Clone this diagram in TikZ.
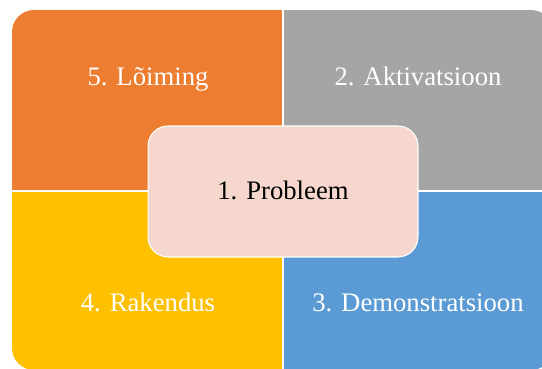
\documentclass[tikz,border=0pt]{standalone}
\usepackage{fontspec}
\setmainfont{Liberation Serif}
\definecolor{qorange}{HTML}{ED7D31}
\definecolor{qgray}{HTML}{A5A5A5}
\definecolor{qyellow}{HTML}{FFC000}
\definecolor{qblue}{HTML}{5B9BD5}
\definecolor{qpink}{HTML}{F5D7CD}
\begin{document}
\begin{tikzpicture}[x=0.02cm,y=0.02cm,font=\fontsize{15.2}{18}\selectfont,
		lbl/.style={text=white,inner sep=0pt,anchor=base},
		midbox/.style={draw=white,line width=0.6pt,fill=qpink,rounded corners=0.4cm,
			minimum width=5.4cm,minimum height=2.62cm}]
	\useasboundingbox (0,0) rectangle (542,369);
	\clip (0,0) rectangle (542,369);
	% four quadrants inside one rounded frame
	\begin{scope}
		\clip[rounded corners=0.44cm] (12,-1) rectangle (553,359);
		\fill[qorange] (12,178) rectangle (283,359);
		\fill[qgray] (283,178) rectangle (553,359);
		\fill[qyellow] (12,-1) rectangle (283,178);
		\fill[qblue] (283,-1) rectangle (553,178);
		\draw[white,line width=0.6pt] (283,-1)--(283,359) (12,178)--(553,178);
	\end{scope}
	\node[lbl] (loiming) at (148,283.5) {5. Lõiming};
	\node[lbl] (aktiv) at (418,283) {2. Aktivatsioon};
	\node[lbl] (rakend) at (148,57) {4. Rakendus};
	\node[lbl] (demo) at (418,57) {3. Demonstratsioon};
	\node[midbox] (probl) at (283,177.5) {};
	\node[lbl,text=black] (probltxt) at (283,169) {1. Probleem};
\end{tikzpicture}
\end{document}
